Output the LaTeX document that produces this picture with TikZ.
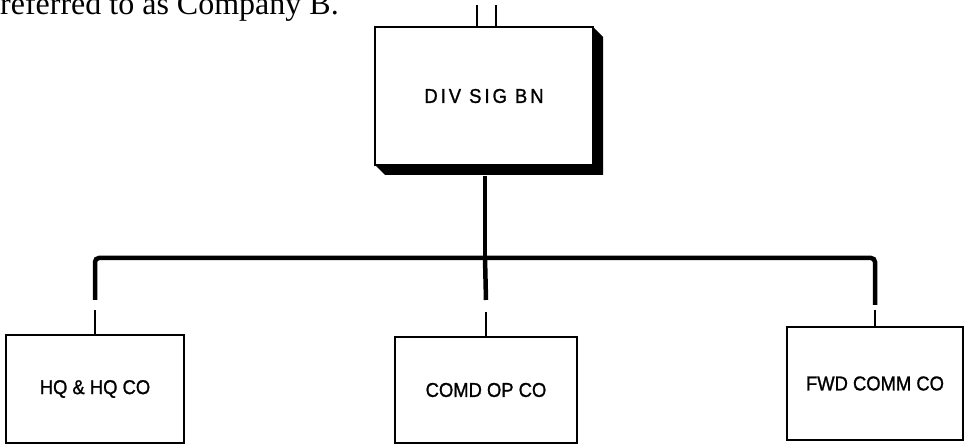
\documentclass[tikz,border=0pt]{standalone}
\usepackage{fontspec}
\setmainfont{Liberation Serif}
\newfontfamily\unitfont{Liberation Sans}[FakeStretch=0.92,FakeBold=1.2]
\newfontfamily\bnfont{Liberation Sans}[FakeStretch=0.92,FakeBold=1.2,LetterSpace=15]
\usepackage{tikz}
\tikzset{basic/.style={draw,fill=white,line width=1.4pt,
                       text badly centered,inner sep=0pt}}
\tikzset{company/.style={basic,rectangle,font=\unitfont\fontsize{20}{24}\selectfont}}
\tikzset{battalion/.style={basic,rectangle,minimum width=218pt,minimum height=138pt,
                           font=\bnfont\fontsize{20}{24}\selectfont}}
\tikzset{bus/.style={line width=4.5pt}}
\tikzset{link/.style={line width=2pt}}
\usetikzlibrary{positioning}

\begin{document}
\begin{tikzpicture}[x=1pt,y=-1pt]
    \clip (0,0) rectangle (970,446);
    % Line of running text cut off at the top
    \node[anchor=base west,inner sep=0pt,font=\fontsize{32}{38}\selectfont] (caption) at (0,15) {referred to as Company B.};
    % Draw battalion node with its shadow
    \fill (593,27) -- (603,37) -- (603,175) -- (385,175) -- (375,165) -- cycle;
    \node[battalion] (div) at (484,96) {DIV SIG BN};
    % Two lines leading up out of the picture
    \coordinate (up1) at (477,5);
    \coordinate (up2) at (496,5);
    \draw[link] (up1) -- (up1 |- div.north);
    \draw[link] (up2) -- (up2 |- div.north);
    % Draw company nodes
    \node[company,minimum width=178pt,minimum height=108pt] (hq) at (95,389) {HQ \& HQ CO};
    \node[company,minimum width=182pt,minimum height=106pt] (comd) at (486,390) {COMD OP CO};
    \node[company,minimum width=176pt,minimum height=113pt] (fwd) at (875,383.5) {FWD COMM CO};
    % Draw the bus from battalion to companies
    \coordinate (tap) at (485,258);
    \draw[bus] ([yshift=-10pt]div.south -| tap) -- (tap);
    \draw[bus,rounded corners=4pt] (hq.north |- 0,300) -- (hq.north |- tap)
        -- (fwd.north |- tap) -- (fwd.north |- 0,305);
    \draw[bus] (tap) -- (comd.north |- 0,300);
    % Thin links down to each company
    \foreach \co/\top in {hq/310,comd/312,fwd/310}{%
        \draw[link] (\co.north |- 0,\top) -- (\co.north);
      }
\end{tikzpicture}
\end{document}
